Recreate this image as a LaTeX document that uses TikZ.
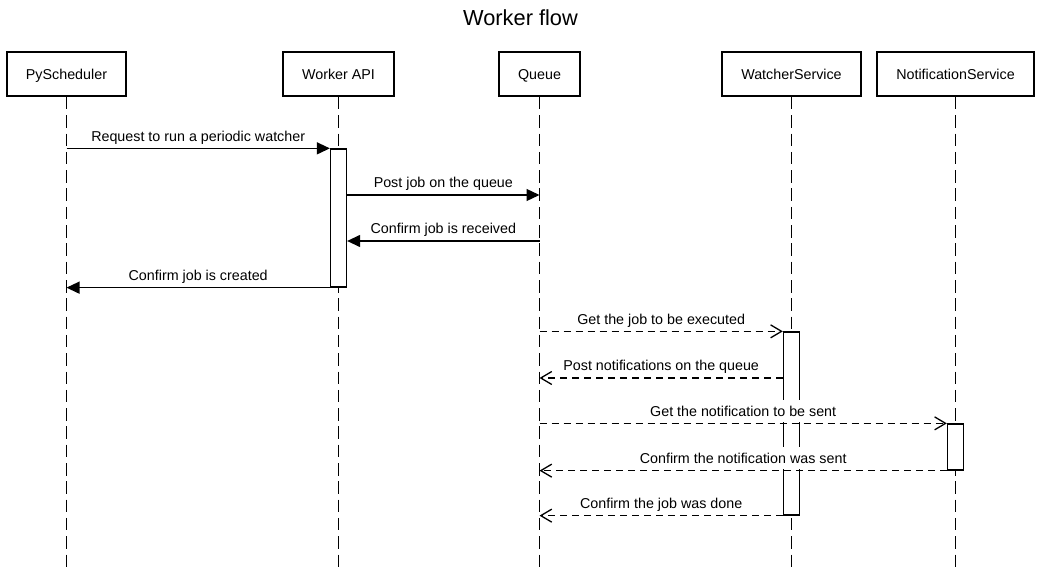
\documentclass[tikz,border=0pt]{standalone}
\usepackage{fontspec}
\setmainfont{Liberation Sans}
\usetikzlibrary{arrows.meta}

\tikzset{
  actor/.style={draw, line width=2pt, minimum height=44, inner sep=0pt, text height=10.2pt, text depth=0pt, font=\fontsize{14.3}{17}\selectfont},
  life/.style={line width=1.3pt, dash pattern=on 12.5pt off 5.8pt},
  activation/.style={draw, fill=white, line width=1.3pt, minimum width=16, inner sep=0pt},
  call/.style={line width=1.3pt, -{Triangle[length=13pt,width=12pt]}},
  reply/.style={line width=1.3pt, dash pattern=on 7pt off 5pt, -{Straight Barb[length=11pt,width=13pt]}},
  msglabel/.style={midway, above, yshift=0.7pt, inner sep=0pt, minimum height=22, text height=10.2pt, text depth=0pt, fill=white, font=\fontsize{14.3}{17}\selectfont}
}

\begin{document}
\begin{tikzpicture}[x=1pt, y=-1pt]
            \useasboundingbox (0,0) rectangle (1041,572);

            % Title
            \node[text height=15.6pt, text depth=0pt, font=\fontsize{21.8}{26}\selectfont] (title) at (520.5,18) {Worker flow};

            % Participants
            \node[actor, minimum width=119] (sched) at (66.5,74) {PyScheduler};
            \node[actor, minimum width=111] (api) at (338.5,74) {Worker API};
            \node[actor, minimum width=81] (queue) at (539.5,74) {Queue};
            \node[actor, minimum width=139] (watcher) at (791.5,74) {WatcherService};
            \node[actor, minimum width=157] (notif) at (955.5,74) {NotificationService};

            % Lifelines
            \coordinate (bottom) at (0,572);
            \foreach \p in {sched,api,queue,watcher,notif} {
                \coordinate (\p-end) at (\p |- bottom);
                \draw[life] (\p) -- (\p-end);
            }

            % Activation boxes
            \node[activation, minimum height=138] (apiact) at (api |- 0,218) {};
            \node[activation, minimum height=183] (watchact) at (watcher |- 0,423.5) {};
            \node[activation, minimum height=46] (notifact) at (notif |- 0,447) {};

            % Worker API calls
            \coordinate (s1) at (sched |- apiact.north);
            \draw[call] (s1) -- node[msglabel] {Request to run a periodic watcher} (apiact.north west);

            \coordinate (q1) at (queue |- 0,195);
            \coordinate (a1) at (apiact.east |- q1);
            \draw[call] (a1) -- node[msglabel] {Post job on the queue} (q1);

            \coordinate (q2) at (queue |- 0,241);
            \coordinate (a2) at (apiact.east |- q2);
            \draw[call] (q2) -- node[msglabel] {Confirm job is received} (a2);

            \coordinate (s2) at (sched |- apiact.south);
            \draw[call] (apiact.south west) -- node[msglabel] {Confirm job is created} (s2);

            % Queue messages
            \coordinate (q3) at (queue |- watchact.north);
            \draw[reply] (q3) -- node[msglabel] {Get the job to be executed} (watchact.north west);

            \coordinate (q4) at (queue |- 0,378);
            \coordinate (w1) at (watchact.west |- q4);
            \draw[reply] (w1) -- node[msglabel] {Post notifications on the queue} (q4);

            \coordinate (q5) at (queue |- notifact.north);
            \draw[reply] (q5) -- node[msglabel] {Get the notification to be sent} (notifact.north west);

            \coordinate (q6) at (queue |- notifact.south);
            \draw[reply] (notifact.south west) -- node[msglabel] {Confirm the notification was sent} (q6);

            \coordinate (q7) at (queue |- watchact.south);
            \draw[reply] (watchact.south west) -- node[msglabel] {Confirm the job was done} (q7);
        \end{tikzpicture}
\end{document}
